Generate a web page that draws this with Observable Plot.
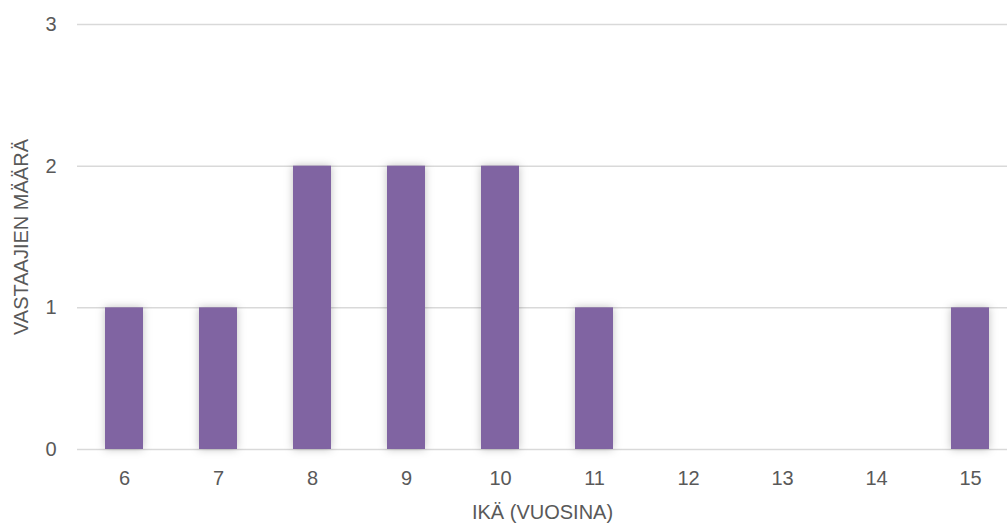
<!DOCTYPE html>
<html>
<head>
<meta charset="utf-8">
<script src="https://cdn.jsdelivr.net/npm/d3@7"></script>
<script src="https://cdn.jsdelivr.net/npm/@observablehq/plot@0.6"></script>
<style>
  html, body { margin: 0; padding: 0; background: #fff; }
  #chart { width: 1007px; height: 525px; overflow: hidden; }
</style>
</head>
<body>
<div id="chart"></div>
<script>
const ages = ["6", "7", "8", "9", "10", "11", "12", "13", "14", "15"];
const counts = [1, 1, 2, 2, 2, 1, 0, 0, 0, 1];
const yTicks = [0, 1, 2, 3];
const xLabel = "IKÄ (VUOSINA)";
const yLabel = "VASTAAJIEN MÄÄRÄ";

const data = ages.map((a, i) => ({age: a, count: counts[i]}));

const chart = Plot.plot({
  width: 1007,
  height: 525,
  marginLeft: 77,
  marginRight: 0,
  marginTop: 24,
  marginBottom: 76,
  style: {fontFamily: "'Liberation Sans Narrow', 'Liberation Sans', sans-serif", fontSize: "20px", color: "#595959", background: "#fff"},
  x: {domain: ages, range: [77, 1017.5], paddingInner: 0.6, paddingOuter: 0.3},
  y: {domain: [0, 3]},
  marks: [
    Plot.ruleY(yTicks, {stroke: "#d9d9d9", strokeWidth: 1.5}),
    Plot.barY(data, {x: "age", y: "count", fill: "#8064a2"}),
    Plot.axisX({tickSize: 0, tickPadding: 21, label: xLabel, labelAnchor: "center", labelOffset: 69, fontSize: 20}),
    Plot.axisY({ticks: yTicks, tickSize: 0, tickPadding: 21, tickFormat: d3.format("d"), label: yLabel, labelAnchor: "center", labelOffset: 64, labelArrow: "none", fontSize: 20})
  ]
});
document.getElementById("chart").appendChild(chart);
const barG = chart.querySelector('g[aria-label="bar"]');
if (barG) barG.style.filter = "drop-shadow(0px 0px 4px rgba(0,0,0,0.25))";
</script>
</body>
</html>
